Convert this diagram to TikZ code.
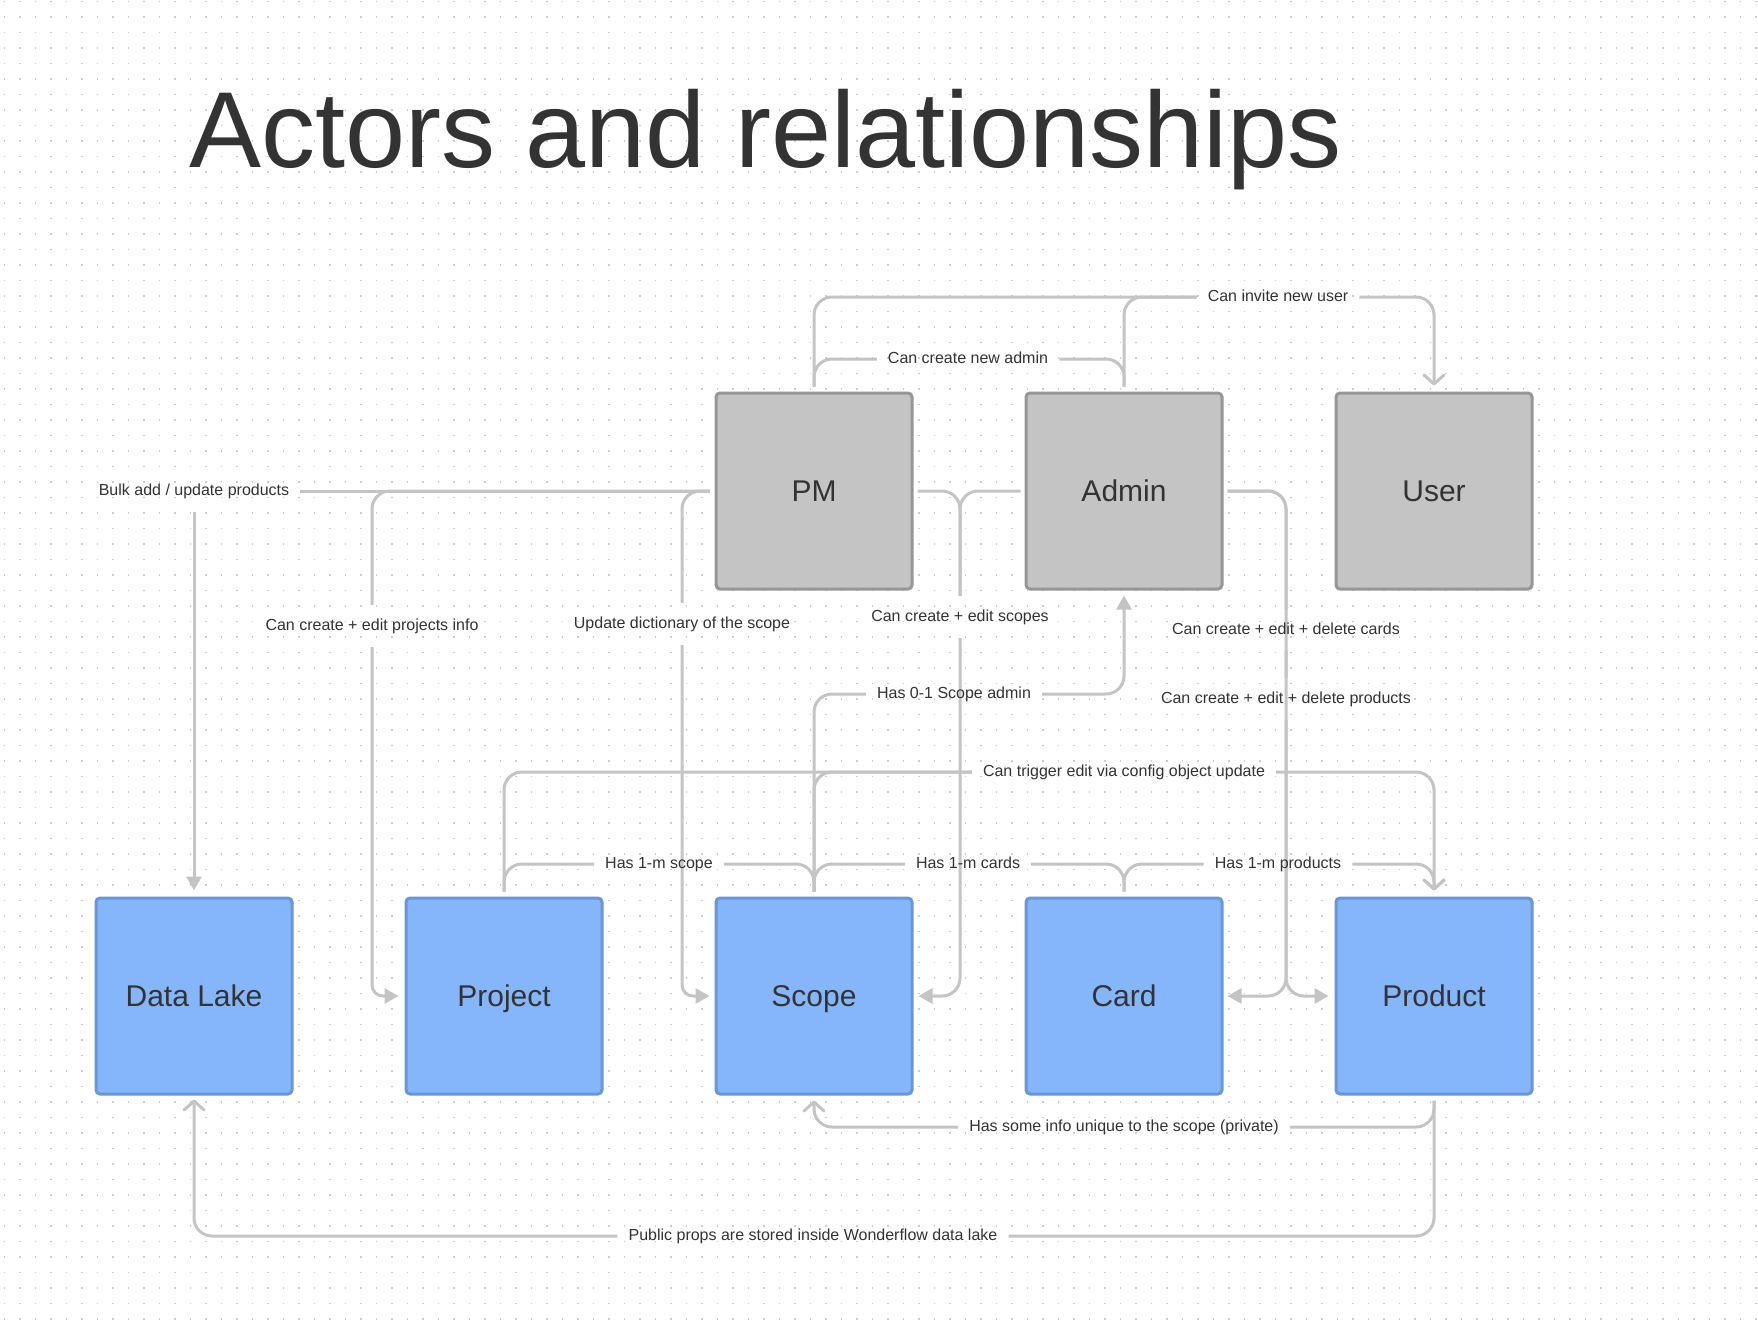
\documentclass[tikz,border=0pt]{standalone}
\usepackage{fontspec}
\setmainfont{Liberation Sans}
\usetikzlibrary{arrows.meta}
\definecolor{linec}{RGB}{196,196,196}
\definecolor{txt}{RGB}{51,51,51}
\definecolor{grayfill}{RGB}{196,196,196}
\definecolor{grayedge}{RGB}{150,150,150}
\definecolor{bluefill}{RGB}{133,182,252}
\definecolor{blueedge}{RGB}{104,150,216}
\definecolor{dotc}{RGB}{205,205,205}
\pgfdeclarelayer{grid}
\pgfdeclarelayer{lines}
\pgfsetlayers{grid,lines,main}
\tikzset{
  mytri/.tip={Triangle[length=14pt,width=15pt]},
  mybarb/.tip={Straight Barb[length=9pt,width=20pt,round]},
  box/.style={minimum width=196pt,minimum height=196pt,line width=3pt,rounded corners=4pt,inner sep=0pt,
    font=\fontsize{30}{36}\selectfont,text=txt,text height=21.5pt,text depth=0pt},
  actor/.style={box,fill=grayfill,draw=grayedge},
  entity/.style={box,fill=bluefill,draw=blueedge},
  lbl/.style={font=\fontsize{16}{19}\selectfont,text=txt,inner xsep=11pt,inner ysep=13pt,text height=12pt,text depth=4pt},
  conn/.style={draw=linec,line width=3pt,rounded corners=18pt},
  tight/.style={rounded corners=11pt},
}
\begin{document}
\begin{tikzpicture}[x=1pt,y=-1pt]
\useasboundingbox (0,0) rectangle (1758,1330);
\begin{pgfonlayer}{grid}
\fill[white] (0,0) rectangle (1758,1330);
\foreach \r in {0,...,85}{
  \draw[dotc,line width=1.6pt,dash pattern=on 1.6pt off 13.9pt] (3.7,1.5+15.5*\r) -- (1758,1.5+15.5*\r);
}
\end{pgfonlayer}

% title
\node[anchor=base west,inner sep=0pt,font=\fontsize{108}{120}\selectfont,text=txt] (title) at (189,167) {Actors and relationships};

% actors
\node[actor] (PM) at (814,491) {PM};
\node[actor] (Admin) at (1124,491) {Admin};
\node[actor] (User) at (1434,491) {User};
% entities
\node[entity] (DL) at (194,996) {Data Lake};
\node[entity] (Project) at (504,996) {Project};
\node[entity] (Scope) at (814,996) {Scope};
\node[entity] (Card) at (1124,996) {Card};
\node[entity] (Product) at (1434,996) {Product};

% labels
\node[lbl] (Linv) at (1278,297) {Can invite new user};
\node[lbl] (Ladm) at (968,359) {Can create new admin};
\node[lbl] (Lbulk) at (194,491) {Bulk add / update products};
\node[lbl] (Lproj) at (372,626) {Can create + edit projects info};
\node[lbl] (Ldict) at (682,624) {Update dictionary of the scope};
\node[lbl] (Lscopes) at (960,617) {Can create + edit scopes};
\node[lbl] (Lcards) at (1286,630) {Can create + edit + delete cards};
\node[lbl] (Lprods) at (1286,699) {Can create + edit + delete products};
\node[lbl] (Lsa) at (954,694) {Has 0-1 Scope admin};
\node[lbl] (Lcfg) at (1124,772) {Can trigger edit via config object update};
\node[lbl] (L1s) at (659,864) {Has 1-m scope};
\node[lbl] (L1c) at (968,864) {Has 1-m cards};
\node[lbl] (L1p) at (1278,864) {Has 1-m products};
\node[lbl] (Lpriv) at (1124,1127) {Has some info unique to the scope (private)};
\node[lbl] (Lpub) at (813,1236) {Public props are stored inside Wonderflow data lake};

\begin{pgfonlayer}{lines}
% invite new user
\draw[conn] ([yshift=5pt]PM.north) |- (Linv.west);
\draw[conn] ([yshift=5pt]Admin.north) |- (Linv.west);
\draw[conn,-mybarb] (Linv.east) -| ([yshift=6pt]User.north);
% create new admin
\draw[conn] ([yshift=5pt]PM.north) |- (Ladm.west);
\draw[conn] (Ladm.east) -| ([yshift=5pt]Admin.north);
% bulk add
\draw[conn] ([xshift=-5pt]PM.west) -- (Lbulk.east);
\draw[conn,-mytri] (Lbulk.south) -- ([yshift=6pt]DL.north);
% projects info
\draw[conn] ([xshift=-5pt]PM.west) -| (Lproj.north);
\draw[conn,tight,-mytri] (Lproj.south) |- ([xshift=-6pt]Project.west);
% dictionary
\draw[conn] ([xshift=-5pt]PM.west) -| (Ldict.north);
\draw[conn,tight,-mytri] (Ldict.south) |- ([xshift=-5pt]Scope.west);
% scopes
\draw[conn] ([xshift=4pt]PM.east) -| (Lscopes.north);
\draw[conn] ([xshift=-4pt]Admin.west) -| (Lscopes.north);
\draw[conn,-mytri] (Lscopes.south) |- ([xshift=5pt]Scope.east);
% cards / products
\draw[conn] ([xshift=4pt]Admin.east) -| (Lcards.north);
\draw[conn] ([xshift=4pt]Admin.east) -| (Lprods.north);
\draw[conn,-mytri] (Lcards.south) |- ([xshift=4pt]Card.east);
\draw[conn,-mytri] (Lprods.south) |- ([xshift=-6pt]Product.west);
% scope admin
\draw[conn] ([yshift=5pt]Scope.north) |- (Lsa.west);
\draw[conn,-mytri] (Lsa.east) -| ([yshift=-5pt]Admin.south);
% config object
\draw[conn] ([yshift=5pt]Project.north) |- (Lcfg.west);
\draw[conn] ([yshift=5pt]Scope.north) |- (Lcfg.west);
\draw[conn,-mybarb] (Lcfg.east) -| ([yshift=6pt]Product.north);
% 1-m relations
\draw[conn] ([yshift=5pt]Project.north) |- (L1s.west);
\draw[conn] (L1s.east) -| ([yshift=5pt]Scope.north);
\draw[conn] ([yshift=5pt]Scope.north) |- (L1c.west);
\draw[conn] (L1c.east) -| ([yshift=5pt]Card.north);
\draw[conn] ([yshift=5pt]Card.north) |- (L1p.west);
\draw[conn,-mybarb] (L1p.east) -| ([yshift=6pt]Product.north);
% bottom
\draw[conn] ([yshift=-5pt]Product.south) |- (Lpriv.east);
\draw[conn,-mybarb] (Lpriv.west) -| ([yshift=-5pt]Scope.south);
\draw[conn] ([yshift=-5pt]Product.south) |- (Lpub.east);
\draw[conn,-mybarb] (Lpub.west) -| ([yshift=-4pt]DL.south);
\end{pgfonlayer}
\end{tikzpicture}
\end{document}
